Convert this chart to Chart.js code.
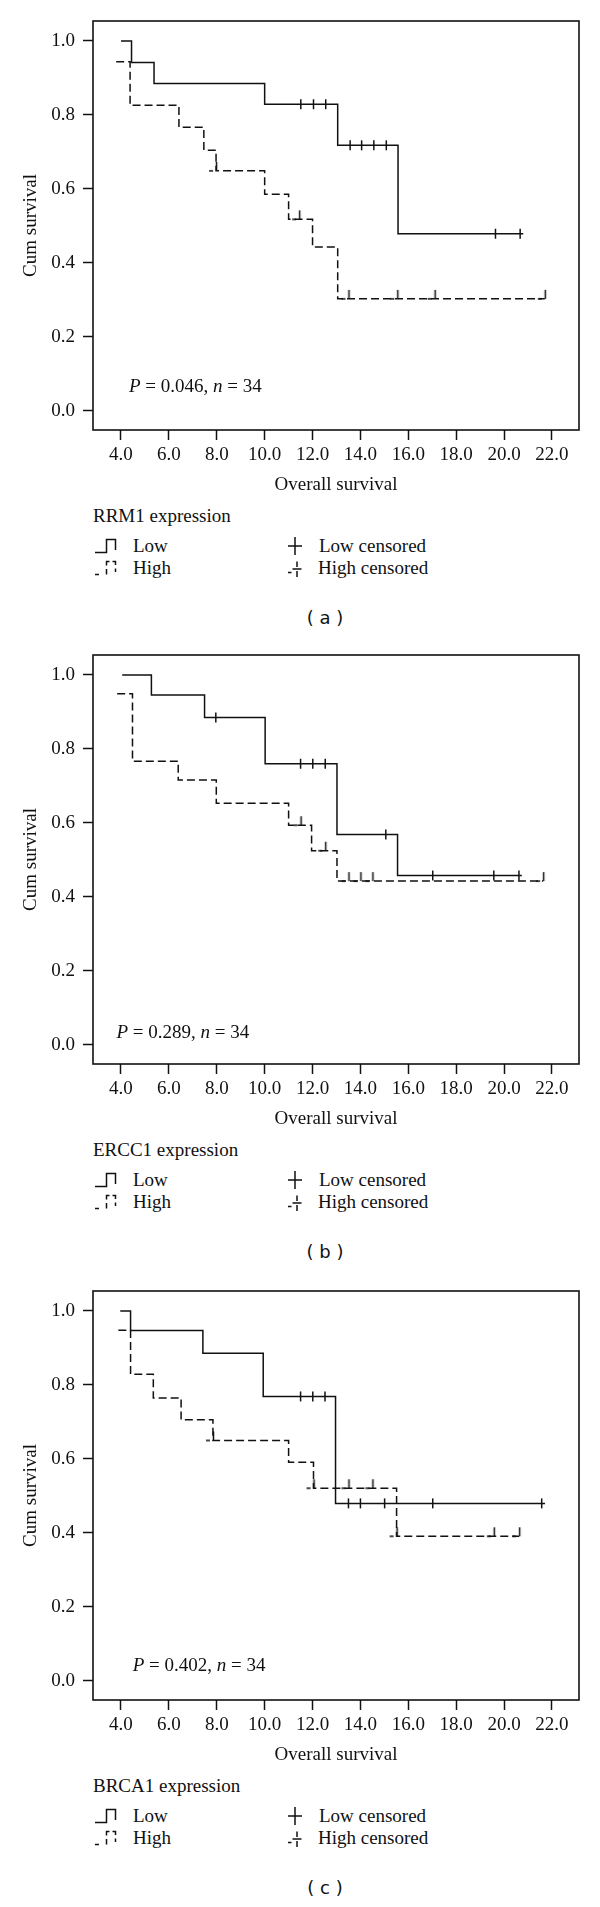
<!DOCTYPE html>
<html lang="en">
<head>
<meta charset="UTF-8">
<title>Overall survival by RRM1, ERCC1 and BRCA1 expression</title>
<script src="https://cdn.jsdelivr.net/npm/chart.js@4.4.1/dist/chart.umd.min.js"></script>
<style>
    body { margin: 0; background: #fff; }
    #page { position: relative; width: 600px; height: 1907px; font-family: "Liberation Serif", serif; color: #111; }
    .panel { position: absolute; left: 0; width: 600px; height: 634px; }
    .panel canvas { position: absolute; left: 0; top: 0; }
    .txt { position: absolute; font-size: 19px; line-height: 22px; white-space: nowrap; }
    .sym { position: absolute; }
    .letter { position: absolute; left: 0; width: 650px; text-align: center; font-family: "DejaVu Sans", sans-serif; font-size: 18px; line-height: 22px; white-space: pre; }
</style>
</head>
<body>
<div id="page"></div>
<script>
    // axis ticks
    const xTicks = [4, 6, 8, 10, 12, 14, 16, 18, 20, 22];
    const yTicks = [0, 0.2, 0.4, 0.6, 0.8, 1.0];

    const genes = ['RRM1', 'ERCC1', 'BRCA1'];
    const letters = ['a', 'b', 'c'];
    const pValues = ['0.046', '0.289', '0.402'];
    const nCases = 34;

    // (a) RRM1 - time of each step and survival after it
    const rrm1LowTime = [4.0, 4.44, 5.38, 10.0, 13.05, 15.57, 20.8];
    const rrm1LowSurv = [1.0, 0.942, 0.885, 0.829, 0.718, 0.479, 0.479];
    const rrm1LowCens = [11.51, 12.04, 12.55, 13.57, 14.05, 14.56, 15.08, 19.64, 20.67];
    const rrm1HighTime = [3.8, 4.38, 6.42, 7.46, 7.97, 10.0, 11.0, 12.0, 13.05, 21.7];
    const rrm1HighSurv = [0.944, 0.826, 0.767, 0.705, 0.649, 0.586, 0.518, 0.443, 0.303, 0.303];
    const rrm1HighCens = [7.97, 11.44, 13.5, 15.54, 17.1, 21.7];

    // (b) ERCC1
    const ercc1LowTime = [4.05, 5.27, 7.49, 10.02, 13.02, 15.55, 20.74];
    const ercc1LowSurv = [1.0, 0.946, 0.885, 0.760, 0.569, 0.458, 0.458];
    const ercc1LowCens = [7.96, 11.50, 12.01, 12.53, 15.06, 17.02, 19.57, 20.62];
    const ercc1HighTime = [3.84, 4.48, 6.39, 7.98, 11.0, 11.96, 13.02, 21.63];
    const ercc1HighSurv = [0.949, 0.767, 0.716, 0.653, 0.594, 0.525, 0.443, 0.443];
    const ercc1HighCens = [11.5, 12.53, 13.5, 14.0, 14.5, 21.63];

    // (c) BRCA1
    const brca1LowTime = [3.97, 4.40, 7.42, 9.94, 12.96, 21.71];
    const brca1LowSurv = [1.0, 0.947, 0.886, 0.769, 0.480, 0.480];
    const brca1LowCens = [11.50, 12.01, 12.52, 13.5, 14.0, 15.01, 17.02, 21.57];
    const brca1HighTime = [3.89, 4.40, 5.35, 6.51, 7.84, 11.0, 12.04, 15.51, 20.63];
    const brca1HighSurv = [0.948, 0.829, 0.765, 0.706, 0.650, 0.591, 0.521, 0.391, 0.391];
    const brca1HighCens = [7.84, 12.04, 13.5, 14.5, 15.51, 19.57, 20.63];

    const panels = [
        { top: 0, low: [rrm1LowTime, rrm1LowSurv, rrm1LowCens], high: [rrm1HighTime, rrm1HighSurv, rrm1HighCens], pAt: [4.33, 0.065] },
        { top: 634, low: [ercc1LowTime, ercc1LowSurv, ercc1LowCens], high: [ercc1HighTime, ercc1HighSurv, ercc1HighCens], pAt: [3.81, 0.033] },
        { top: 1270, low: [brca1LowTime, brca1LowSurv, brca1LowCens], high: [brca1HighTime, brca1HighSurv, brca1HighCens], pAt: [4.49, 0.041] }
    ];

    const ink = '#111';
    const serif = "'Liberation Serif', serif";

    // survival value of the step curve at time t
    function stepValue(times, surv, t) {
        let v = surv[0];
        for (let i = 0; i < times.length; i++) {
            if (times[i] <= t + 1e-9) v = surv[i];
        }
        return v;
    }

    // censor mark for the high group: tick upwards plus a short dash on the left
    function halfTick() {
        const c = document.createElement('canvas');
        c.width = 16; c.height = 20;
        const g = c.getContext('2d');
        g.strokeStyle = ink; g.lineWidth = 1.5;
        g.beginPath();
        g.moveTo(8.5, 1); g.lineTo(8.5, 10);
        g.moveTo(1, 10); g.lineTo(5, 10);
        g.stroke();
        return c;
    }
    const highMark = halfTick();

    const boxPlugin = {
        id: 'box',
        afterDraw(chart) {
            const { ctx, chartArea: a } = chart;
            ctx.save();
            ctx.strokeStyle = ink;
            ctx.lineWidth = 1.6;
            ctx.strokeRect(a.left, a.top, a.right - a.left, a.bottom - a.top);
            ctx.restore();
        }
    };

    const pTextPlugin = {
        id: 'pText',
        afterDraw(chart, args, opts) {
            const { ctx, scales: { x, y } } = chart;
            let px = x.getPixelForValue(opts.at[0]);
            const py = y.getPixelForValue(opts.at[1]);
            ctx.save();
            ctx.fillStyle = ink;
            ctx.textBaseline = 'middle';
            for (const [s, italic] of opts.parts) {
                ctx.font = (italic ? 'italic ' : '') + '19px ' + serif;
                ctx.fillText(s, px, py);
                px += ctx.measureText(s).width;
            }
            ctx.restore();
        }
    };

    function makePanel(p, idx) {
        const page = document.getElementById('page');
        const div = document.createElement('div');
        div.className = 'panel';
        div.style.top = p.top + 'px';
        page.appendChild(div);

        const canvas = document.createElement('canvas');
        canvas.width = 600; canvas.height = 500;
        div.appendChild(canvas);

        const [lt, ls, lc] = p.low;
        const [ht, hs, hc] = p.high;

        new Chart(canvas.getContext('2d'), {
            type: 'scatter',
            data: {
                datasets: [
                    {
                        data: lt.map((t, i) => ({ x: t, y: ls[i] })),
                        showLine: true, stepped: 'before',
                        borderColor: ink, borderWidth: 1.5, pointRadius: 0
                    },
                    {
                        data: ht.map((t, i) => ({ x: t, y: hs[i] })),
                        showLine: true, stepped: 'before', borderDash: [8, 4],
                        borderColor: ink, borderWidth: 1.5, pointRadius: 0
                    },
                    {
                        data: lc.map(t => ({ x: t, y: stepValue(lt, ls, t) })),
                        pointStyle: 'line', rotation: 90, pointRadius: 5,
                        borderColor: ink, borderWidth: 1.5
                    },
                    {
                        data: hc.map(t => ({ x: t, y: stepValue(ht, hs, t) })),
                        pointStyle: highMark, pointRadius: 5,
                        borderColor: ink
                    }
                ]
            },
            options: {
                responsive: false,
                animation: false,
                events: [],
                layout: { padding: { left: 0, right: 21, top: 21, bottom: 0 } },
                plugins: {
                    legend: { display: false },
                    tooltip: { enabled: false },
                    pText: {
                        at: p.pAt,
                        parts: [['P', true], [' = ' + pValues[idx] + ', ', false], ['n', true], [' = ' + nCases, false]]
                    }
                },
                scales: {
                    x: {
                        type: 'linear',
                        min: 2.831, max: 23.128,
                        afterBuildTicks: s => { s.ticks = xTicks.map(v => ({ value: v })); },
                        afterFit: s => { s.height = 70; },
                        border: { display: false },
                        grid: { drawOnChartArea: false, drawTicks: true, tickLength: 10, tickColor: ink, tickWidth: 1.5 },
                        ticks: {
                            color: ink, padding: 4, maxRotation: 0, autoSkip: false,
                            font: { family: serif, size: 19 },
                            callback: v => Number(v).toFixed(1)
                        },
                        title: {
                            display: true, text: 'Overall survival', color: ink,
                            font: { family: serif, size: 19, lineHeight: 1.2 },
                            padding: { top: 0, bottom: 3.6 }
                        }
                    },
                    y: {
                        type: 'linear',
                        min: -0.0514, max: 1.054,
                        afterBuildTicks: s => { s.ticks = yTicks.map(v => ({ value: v })); },
                        afterFit: s => { s.width = 93; },
                        border: { display: false },
                        grid: { drawOnChartArea: false, drawTicks: true, tickLength: 10, tickColor: ink, tickWidth: 1.5 },
                        ticks: {
                            color: ink, padding: 8,
                            font: { family: serif, size: 19 },
                            callback: v => Number(v).toFixed(1)
                        },
                        title: {
                            display: true, text: 'Cum survival', color: ink,
                            font: { family: serif, size: 19, lineHeight: 1.2 },
                            padding: { top: 19.6, bottom: 0 }
                        }
                    }
                }
            },
            plugins: [boxPlugin, pTextPlugin]
        });

        // legend below the plot
        const add = (html, cls, left, top) => {
            const el = document.createElement('div');
            el.className = cls;
            el.style.left = left + 'px';
            el.style.top = top + 'px';
            el.innerHTML = html;
            div.appendChild(el);
        };
        const svg = (w, h, body) =>
            `<svg width="${w}" height="${h}" viewBox="0 0 ${w} ${h}" fill="none" stroke="${ink}" stroke-width="1.5">${body}</svg>`;

        add(genes[idx] + ' expression', 'txt', 93, 505);
        add(svg(24, 16, '<path d="M1 14.5 H12.5 V1.5 H21.5 V12"/>'), 'sym', 94, 538);
        add('Low', 'txt', 133, 535);
        add(svg(24, 16, '<path d="M1 14.5 H5 M12.5 14.5 V9 M12.5 5.5 V1.5 H15.5 M18.5 1.5 H21.5 V5 M21.5 8.5 V12"/>'), 'sym', 94, 560);
        add('High', 'txt', 133, 557);
        add(svg(16, 20, '<path d="M1 10 H15 M8 1 V19"/>'), 'sym', 287, 536);
        add('Low censored', 'txt', 319, 535);
        add(svg(16, 20, '<path d="M1 14.5 H4.5 M5.5 11 H14.5 M10 3.5 V9 M10 13 V19"/>'), 'sym', 287, 558);
        add('High censored', 'txt', 318, 557);
        add('( ' + letters[idx] + ' )', 'letter', 0, 607);
    }

    panels.forEach(makePanel);
</script>
</body>
</html>
